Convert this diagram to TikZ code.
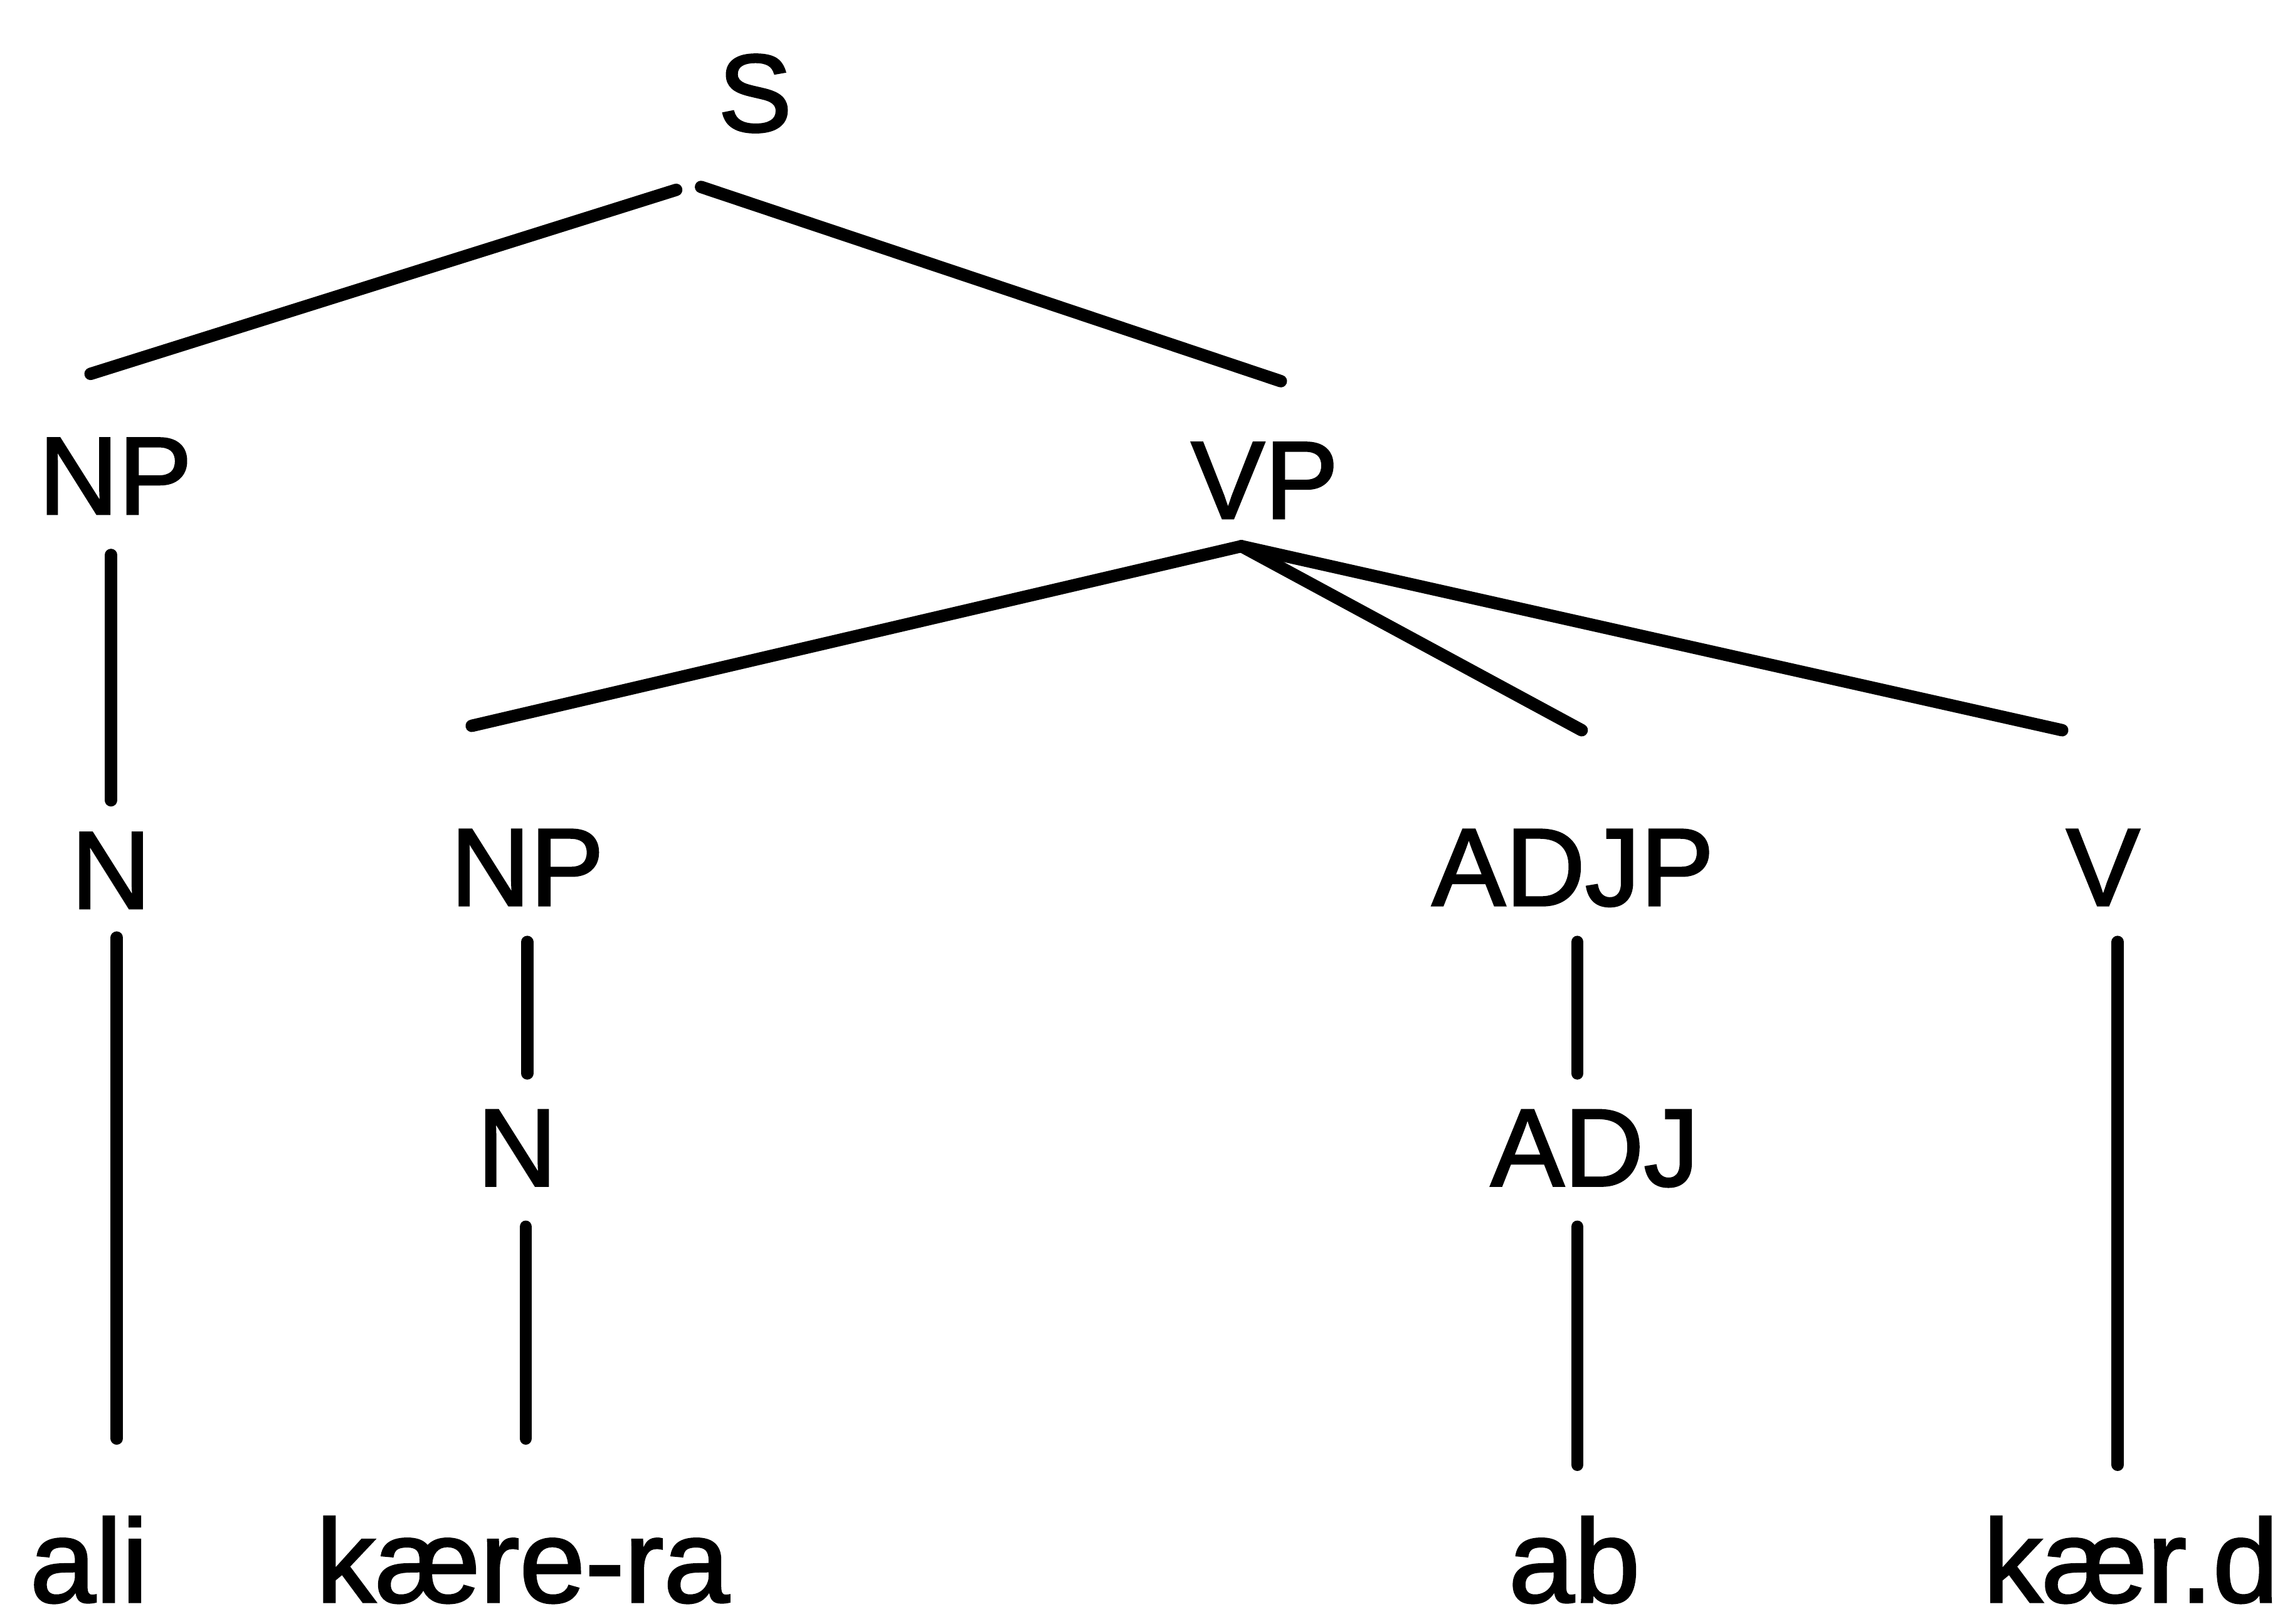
\documentclass[tikz,border=0pt]{standalone}
\usepackage{fontspec}
\setmainfont{Liberation Sans}
\newfontfamily\treefont{Liberation Sans}[FakeBold=1.8]
\begin{document}
\begin{tikzpicture}[x=0.02cm,y=-0.02cm,
  lab/.style={anchor=base,inner sep=0pt,font=\treefont\fontsize{43}{43}\selectfont},
  word/.style={lab,font=\treefont\fontsize{46}{46}\selectfont},
  branch/.style={line width=0.17cm,line cap=round}]
\useasboundingbox (0,0) rectangle (1568,1112);

% category labels
\node[lab] (S)    at (517,90)   {S};
\node[lab] (NPa)  at (79,352)   {NP};
\node[lab] (VP)   at (866,355)  {VP};
\node[lab] (Na)   at (76,622)   {N};
\node[lab] (NPb)  at (361,620)  {NP};
\node[lab] (ADJP) at (1077,620) {ADJP};
\node[lab] (V)    at (1440,620) {V};
\node[lab] (Nb)   at (354,812)  {N};
\node[lab] (ADJ)  at (1092,812) {ADJ};

% words
\node[word] (ali)   at (61,1097)   {ali};
\node[word] (kare)  at (358,1097)  {kære-ra};
\node[word] (ab)    at (1078,1097) {ab};
\node[word] (kard)  at (1459,1097) {kær.d};

% branches
\draw[branch] ([shift={(-54,40)}]S.base) -- ([shift={(-17,-96)}]NPa.base);
\draw[branch] ([shift={(-37,38)}]S.base) -- ([shift={(11,-94)}]VP.base);
\draw[branch] ([shift={(-3,28)}]NPa.base) -- ([shift={(0,-74)}]Na.base);
\draw[branch] ([shift={(4,20)}]Na.base) -- ([shift={(19,-112)}]ali.base);
\draw[branch] ([shift={(-16,19)}]VP.base) -- ([shift={(-38,-123)}]NPb.base);
\draw[branch] ([shift={(-16,19)}]VP.base) -- ([shift={(6,-120)}]ADJP.base);
\draw[branch] ([shift={(-16,19)}]VP.base) -- ([shift={(-28,-120)}]V.base);
\draw[branch] ([shift={(0,25)}]NPb.base) -- ([shift={(7,-77)}]Nb.base);
\draw[branch] ([shift={(6,28)}]Nb.base) -- ([shift={(2,-112)}]kare.base);
\draw[branch] ([shift={(3,25)}]ADJP.base) -- ([shift={(-12,-77)}]ADJ.base);
\draw[branch] ([shift={(-12,28)}]ADJ.base) -- ([shift={(2,-94)}]ab.base);
\draw[branch] ([shift={(10,25)}]V.base) -- ([shift={(-9,-94)}]kard.base);
\end{tikzpicture}
\end{document}
